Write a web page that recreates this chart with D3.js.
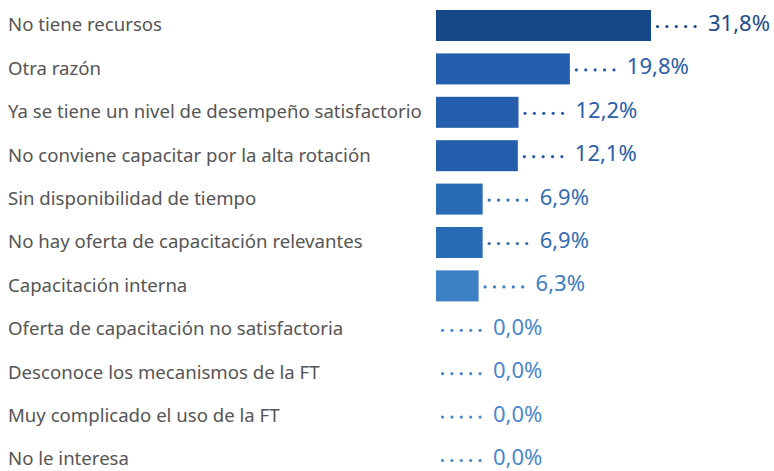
<!DOCTYPE html>
<html>
<head>
<meta charset="utf-8">
<script src="https://cdn.jsdelivr.net/npm/d3@7"></script>
<style>
    body { margin: 0; background: #fff; }
    svg { display: block; }
</style>
</head>
<body>
<div id="chart"></div>
<script>
const width = 774;
const height = 471;

// data
const categories = [
    "No tiene recursos",
    "Otra razón",
    "Ya se tiene un nivel de desempeño satisfactorio",
    "No conviene capacitar por la alta rotación",
    "Sin disponibilidad de tiempo",
    "No hay oferta de capacitación relevantes",
    "Capacitación interna",
    "Oferta de capacitación no satisfactoria",
    "Desconoce los mecanismos de la FT",
    "Muy complicado el uso de la FT",
    "No le interesa"
];
const values = [31.8, 19.8, 12.2, 12.1, 6.9, 6.9, 6.3, 0, 0, 0, 0];

const barLeft = 436;
const rowStep = 43.4;
const barH = 31;

const svg = d3.select("#chart")
    .append("svg")
    .attr("width", width)
    .attr("height", height);

const x = d3.scaleLinear()
    .domain([0, 31.8])
    .range([0, 215]);

const y = d3.scaleBand()
    .domain(categories)
    .range([3.8, 3.8 + rowStep * categories.length])
    .paddingInner(1 - barH / rowStep)
    .paddingOuter((1 - barH / rowStep) / 2);

// darker blue for bigger shares
const barColor = d3.scaleThreshold()
    .domain([6.5, 10, 20])
    .range(["#3d81c4", "#2a6bb6", "#245eac", "#17498a"]);
const textColor = d3.scaleThreshold()
    .domain([0.01, 6.5, 10, 20])
    .range(["#4a87cb", "#3d7ec2", "#316cb5", "#2a5ea8", "#1d4a88"]);

const rows = svg.selectAll("g.row")
    .data(categories.map((c, i) => ({ label: c, value: values[i] })))
    .enter().append("g")
    .attr("class", "row")
    .attr("transform", d => `translate(0,${y(d.label) + y.bandwidth() / 2})`);

rows.append("text")
    .attr("x", 8)
    .attr("dy", "0.32em")
    .attr("fill", "#555")
    .style("font-family", "'Noto Sans', sans-serif")
    .style("font-size", "18.6px")
    .text(d => d.label);

rows.filter(d => d.value > 0)
    .append("rect")
    .attr("x", barLeft)
    .attr("y", -y.bandwidth() / 2)
    .attr("width", d => x(d.value))
    .attr("height", y.bandwidth())
    .attr("fill", d => barColor(d.value));

// dotted leader
rows.each(function (d) {
    d3.select(this).selectAll("circle")
        .data(d3.range(5))
        .enter().append("circle")
        .attr("cx", k => barLeft + x(d.value) + 6.5 + k * 9.4)
        .attr("cy", 1)
        .attr("r", 1.6)
        .attr("fill", textColor(d.value));
});

rows.append("text")
    .attr("x", d => barLeft + x(d.value) + 57)
    .attr("y", 5.5)
    .attr("fill", d => textColor(d.value))
    .style("font-family", "'Noto Sans', sans-serif")
    .style("font-size", "22px")
    .text(d => d3.format(".1f")(d.value).replace(".", ",") + "%");
</script>
</body>
</html>
